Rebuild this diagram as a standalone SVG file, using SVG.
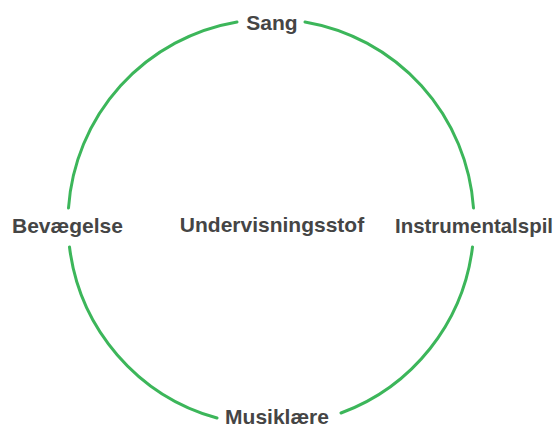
<svg xmlns="http://www.w3.org/2000/svg" width="559" height="429" viewBox="0 0 559 429">
<style>
.lbl{font-family:"Liberation Sans",Arial,Helvetica,sans-serif;font-weight:bold;font-size:21px;fill:#454545}
.arc{fill:none;stroke:#3cb65a;stroke-width:3;stroke-linecap:round}
</style>
<rect width="559" height="429" fill="#ffffff"/>
<g id="connectors">
<path class="arc" d="M305,21.9 A203,203 0 0 1 473.5,208"/>
<path class="arc" d="M472.5,247 A203,203 0 0 1 341,413"/>
<path class="arc" d="M217,418 A203,203 0 0 1 69.5,247"/>
<path class="arc" d="M68.5,208 A203,203 0 0 1 237,21.9"/>
</g>
<g id="sang"><text class="lbl" x="272" y="30" text-anchor="middle">Sang</text></g>
<g id="bevaegelse"><text class="lbl" x="12" y="233">Bevægelse</text></g>
<g id="instrumentalspil"><text class="lbl" x="395" y="233" textLength="158" lengthAdjust="spacingAndGlyphs">Instrumentalspil</text></g>
<g id="undervisningsstof"><text class="lbl" x="272" y="232" text-anchor="middle">Undervisningsstof</text></g>
<g id="musiklaere"><text class="lbl" x="277" y="424" text-anchor="middle">Musiklære</text></g>
</svg>
